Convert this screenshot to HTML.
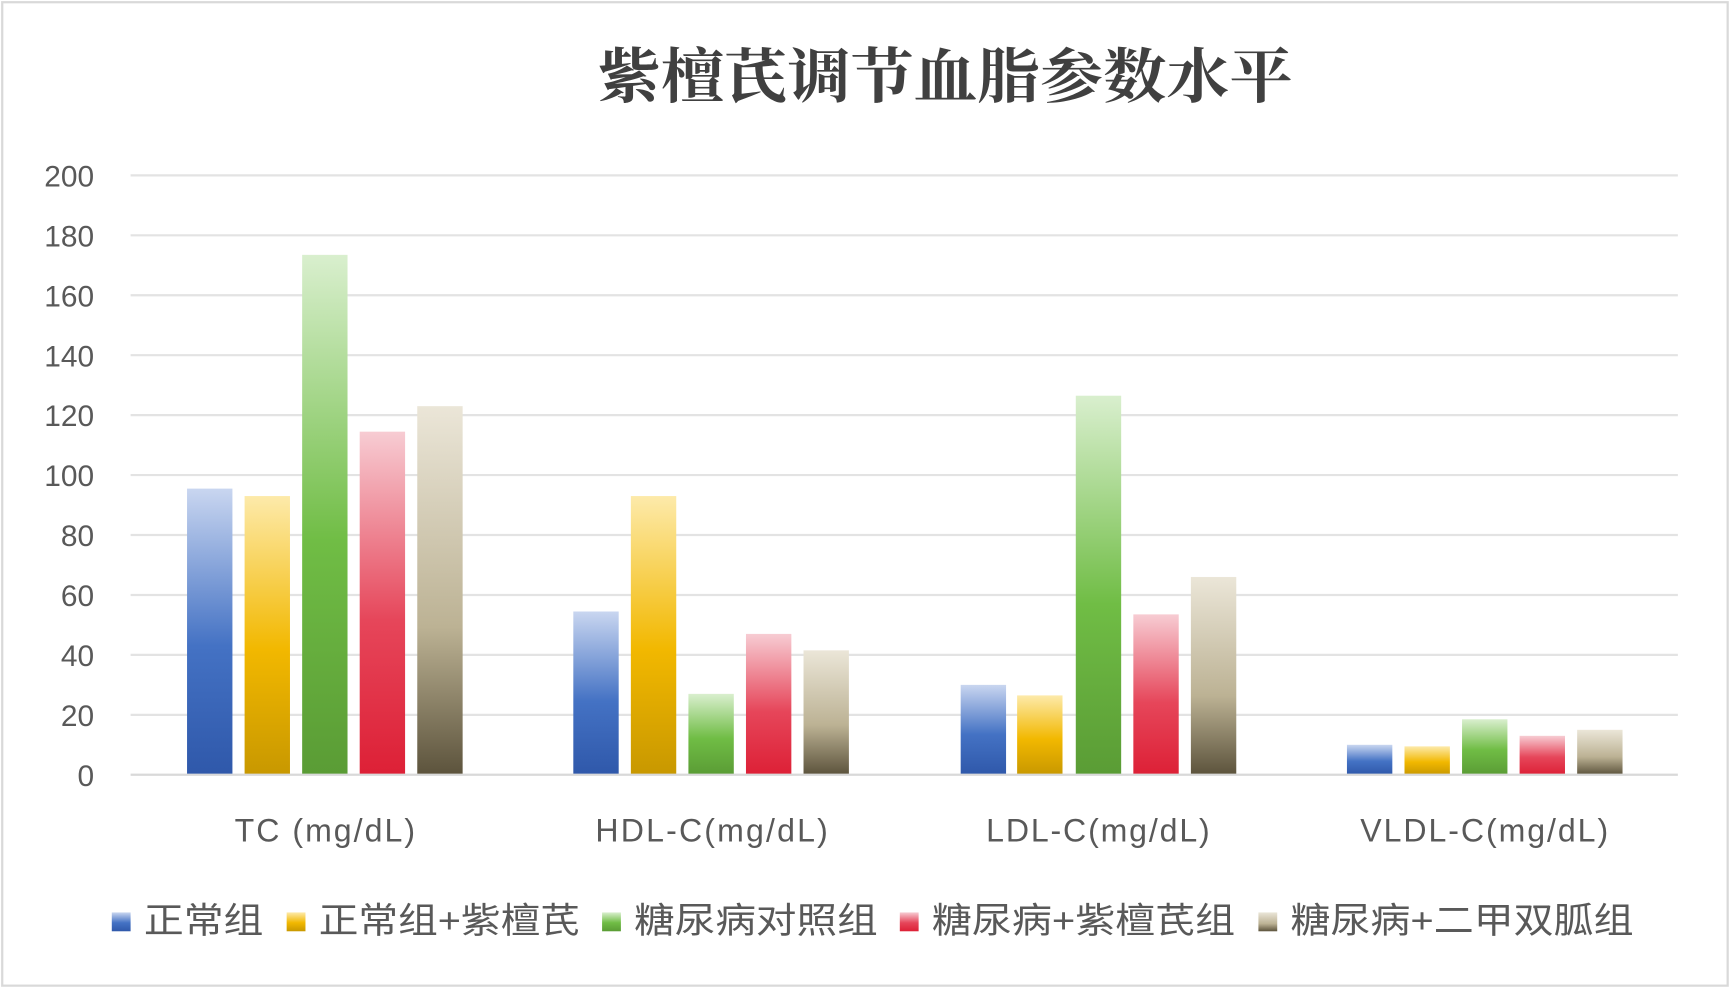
<!DOCTYPE html>
<html><head><meta charset="utf-8"><style>html,body{margin:0;padding:0;background:#fff}svg{display:block}</style></head>
<body>
<svg width="1731" height="989" viewBox="0 0 1564 891" preserveAspectRatio="none" xmlns="http://www.w3.org/2000/svg">
<defs>
<linearGradient id="g0" x1="0" y1="0" x2="0" y2="1"><stop offset="0" stop-color="#c9d6f0"/><stop offset="0.55" stop-color="#4472c4"/><stop offset="1" stop-color="#2f58aa"/></linearGradient>
<linearGradient id="g1" x1="0" y1="0" x2="0" y2="1"><stop offset="0" stop-color="#fdeaaa"/><stop offset="0.55" stop-color="#f2b800"/><stop offset="1" stop-color="#c89800"/></linearGradient>
<linearGradient id="g2" x1="0" y1="0" x2="0" y2="1"><stop offset="0" stop-color="#d9efce"/><stop offset="0.55" stop-color="#70bd45"/><stop offset="1" stop-color="#5a9c35"/></linearGradient>
<linearGradient id="g3" x1="0" y1="0" x2="0" y2="1"><stop offset="0" stop-color="#f7ccd3"/><stop offset="0.55" stop-color="#e6465a"/><stop offset="1" stop-color="#dd2036"/></linearGradient>
<linearGradient id="g4" x1="0" y1="0" x2="0" y2="1"><stop offset="0" stop-color="#ebe6d8"/><stop offset="0.6" stop-color="#bcb294"/><stop offset="1" stop-color="#5c533c"/></linearGradient>
</defs>
<rect x="2" y="2" width="1559" height="886" fill="#fff" stroke="#d9d9d9" stroke-width="2"/>
<text x="540" y="88" textLength="628" lengthAdjust="spacingAndGlyphs" font-family="'Noto Serif CJK SC','Noto Sans CJK SC',serif" font-weight="bold" font-size="54" fill="#404040">紫檀芪调节血脂参数水平</text>
<g stroke="#e3e3e3" stroke-width="2">
<line x1="118" x2="1516" y1="158" y2="158"/><line x1="118" x2="1516" y1="212" y2="212"/><line x1="118" x2="1516" y1="266" y2="266"/><line x1="118" x2="1516" y1="320" y2="320"/><line x1="118" x2="1516" y1="374" y2="374"/><line x1="118" x2="1516" y1="428" y2="428"/><line x1="118" x2="1516" y1="482" y2="482"/><line x1="118" x2="1516" y1="536" y2="536"/><line x1="118" x2="1516" y1="590" y2="590"/><line x1="118" x2="1516" y1="644" y2="644"/>
</g>
<g font-family="'Liberation Sans',sans-serif" font-size="27" fill="#595959" text-anchor="end">
<text x="85" y="168">200</text><text x="85" y="222">180</text><text x="85" y="276">160</text><text x="85" y="330">140</text><text x="85" y="384">120</text><text x="85" y="438">100</text><text x="85" y="492">80</text><text x="85" y="546">60</text><text x="85" y="600">40</text><text x="85" y="654">20</text><text x="85" y="708">0</text>
</g>
<g>
<rect x="169" y="440.2" width="41" height="257.8" fill="url(#g0)"/>
<rect x="221" y="446.9" width="41" height="251.1" fill="url(#g1)"/>
<rect x="273" y="229.6" width="41" height="468.4" fill="url(#g2)"/>
<rect x="325" y="388.9" width="41" height="309.1" fill="url(#g3)"/>
<rect x="377" y="365.9" width="41" height="332.1" fill="url(#g4)"/>
<rect x="518" y="550.9" width="41" height="147.1" fill="url(#g0)"/>
<rect x="570" y="446.9" width="41" height="251.1" fill="url(#g1)"/>
<rect x="622" y="625.1" width="41" height="72.9" fill="url(#g2)"/>
<rect x="674" y="571.1" width="41" height="126.9" fill="url(#g3)"/>
<rect x="726" y="585.9" width="41" height="112.1" fill="url(#g4)"/>
<rect x="868" y="617" width="41" height="81" fill="url(#g0)"/>
<rect x="919" y="626.5" width="41" height="71.5" fill="url(#g1)"/>
<rect x="972" y="356.5" width="41" height="341.5" fill="url(#g2)"/>
<rect x="1024" y="553.5" width="41" height="144.5" fill="url(#g3)"/>
<rect x="1076" y="519.8" width="41" height="178.2" fill="url(#g4)"/>
<rect x="1217" y="671" width="41" height="27" fill="url(#g0)"/>
<rect x="1269" y="672.4" width="41" height="25.6" fill="url(#g1)"/>
<rect x="1321" y="648" width="41" height="50" fill="url(#g2)"/>
<rect x="1373" y="662.9" width="41" height="35.1" fill="url(#g3)"/>
<rect x="1425" y="657.5" width="41" height="40.5" fill="url(#g4)"/>
</g>
<line x1="118" x2="1516" y1="698" y2="698" stroke="#d9d9d9" stroke-width="2"/>
<g font-family="'Liberation Sans',sans-serif" font-size="29" fill="#595959" lengthAdjust="spacingAndGlyphs">
<text x="212" y="758" textLength="163">TC (mg/dL)</text><text x="538" y="758" textLength="210">HDL-C(mg/dL)</text><text x="891" y="758" textLength="202">LDL-C(mg/dL)</text><text x="1229" y="758" textLength="224">VLDL-C(mg/dL)</text>
</g>
<g font-family="'Liberation Sans','Noto Sans CJK SC',sans-serif" font-size="32" fill="#595959">
<rect x="101" y="822" width="17" height="17" fill="url(#g0)"/><text x="130" y="840" textLength="108" lengthAdjust="spacingAndGlyphs">正常组</text>
<rect x="259" y="822" width="17" height="17" fill="url(#g1)"/><text x="288" y="840" textLength="236" lengthAdjust="spacingAndGlyphs">正常组+紫檀芪</text>
<rect x="544" y="822" width="17" height="17" fill="url(#g2)"/><text x="573" y="840" textLength="220" lengthAdjust="spacingAndGlyphs">糖尿病对照组</text>
<rect x="813" y="822" width="17" height="17" fill="url(#g3)"/><text x="842" y="840" textLength="274" lengthAdjust="spacingAndGlyphs">糖尿病+紫檀芪组</text>
<rect x="1137" y="822" width="17" height="17" fill="url(#g4)"/><text x="1166" y="840" textLength="310" lengthAdjust="spacingAndGlyphs">糖尿病+二甲双胍组</text>
</g>
</svg>
</body></html>
